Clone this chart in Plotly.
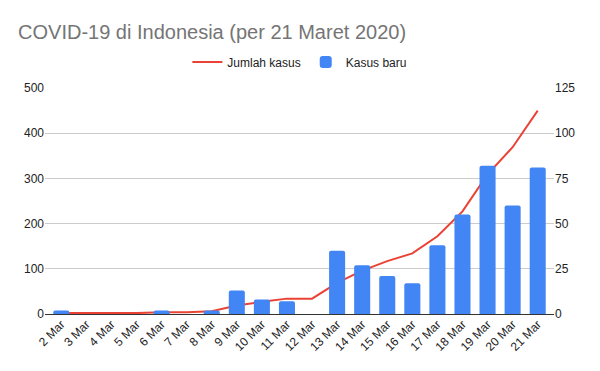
import plotly.graph_objects as go

dates = ["2 Mar", "3 Mar", "4 Mar", "5 Mar", "6 Mar", "7 Mar", "8 Mar", "9 Mar", "10 Mar", "11 Mar",
         "12 Mar", "13 Mar", "14 Mar", "15 Mar", "16 Mar", "17 Mar", "18 Mar", "19 Mar", "20 Mar", "21 Mar"]
jumlah_kasus = [2, 2, 2, 2, 4, 4, 6, 19, 27, 34, 34, 69, 96, 117, 134, 172, 227, 309, 369, 450]
kasus_baru = [2, 0, 0, 0, 2, 0, 2, 13, 8, 7, 0, 35, 27, 21, 17, 38, 55, 82, 60, 81]
left_ticks = [0, 100, 200, 300, 400, 500]
right_ticks = [0, 25, 50, 75, 100, 125]

FONT = "Liberation Sans, Arial, sans-serif"

# The page body has an 8px margin, so the figure is sized to fit the window.
W, H = 592, 363

fig = go.Figure()
fig.add_trace(go.Bar(x=dates, y=kasus_baru, name="Kasus baru", yaxis="y2",
                     marker=dict(color="#4285F4", line=dict(width=0), cornerradius=2)))
fig.add_trace(go.Scatter(x=dates, y=jumlah_kasus, name="Jumlah kasus", mode="lines",
                         line=dict(color="#EA4335", width=2)))

fig.update_layout(
    width=W, height=H,
    margin=dict(l=37, r=46, t=80, b=57),
    paper_bgcolor="white", plot_bgcolor="white",
    font=dict(family=FONT, size=12, color="#222222"),
    title=dict(text="COVID-19 di Indonesia (per 21 Maret 2020)", x=0.017, xanchor="left",
               yref="container", y=0.935, yanchor="middle",
               font=dict(size=20, color="#757575", family=FONT)),
    legend=dict(orientation="h", x=0.493, xanchor="center", xref="container",
                y=0.851, yanchor="middle", yref="container",
                font=dict(size=12, color="#222222"), traceorder="reversed", itemwidth=30),
    bargap=0.36,
    xaxis=dict(type="category", range=[-0.65, 19.65], tickangle=-45, showgrid=False,
               showline=False, tickfont=dict(size=12), ticks="", automargin=False),
    yaxis=dict(range=[0, 500], tickvals=left_ticks, showgrid=True, gridcolor="#cccccc",
               zeroline=True, zerolinecolor="#333333", zerolinewidth=1,
               tickfont=dict(size=12), ticks="", automargin=False),
    yaxis2=dict(range=[0, 125], tickvals=right_ticks, overlaying="y", side="right",
                showgrid=False, zeroline=False, tickfont=dict(size=12), ticks="",
                automargin=False),
)
fig.write_html("out.html")
